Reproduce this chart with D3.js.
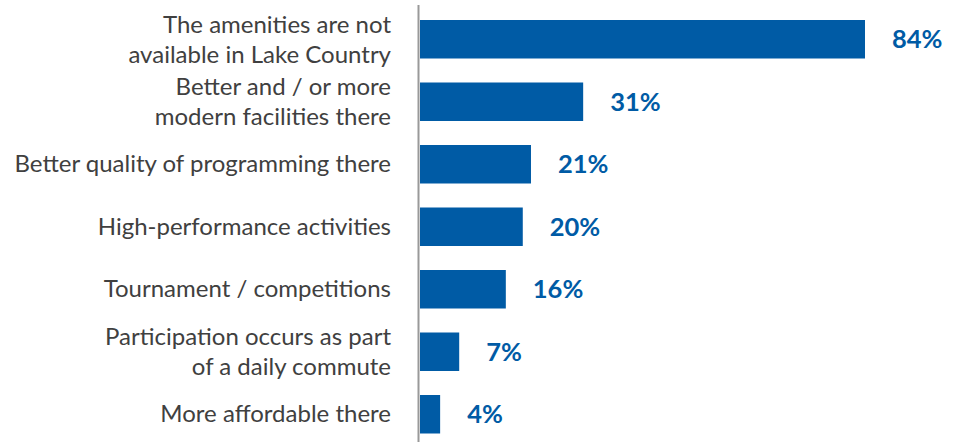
<!DOCTYPE html>
<html><head><meta charset="utf-8">
<script src="https://cdn.jsdelivr.net/npm/d3@7"></script>
<style>
html,body{margin:0;padding:0;background:#fff;}
svg{display:block;}
</style></head>
<body>
<script>
const categories = [
  ["The amenities are not", "available in Lake Country"],
  ["Better and / or more", "modern facilities there"],
  ["Better quality of programming there"],
  ["High-performance activities"],
  ["Tournament / competitions"],
  ["Participation occurs as part", "of a daily commute"],
  ["More affordable there"]
];
const values = [84, 30.8, 20.95, 19.4, 16.2, 7.4, 3.8];
const valueLabels = ["84%", "31%", "21%", "20%", "16%", "7%", "4%"];

const W = 961, H = 442;
const svg = d3.select("body").append("svg").attr("width", W).attr("height", H);

const x = d3.scaleLinear().domain([0, 84]).range([420, 865]);
const y = d3.scaleBand().domain(d3.range(values.length)).range([8, 445.5])
  .paddingInner(0.384).paddingOuter(0.192);

svg.selectAll("rect.bar").data(values).join("rect")
  .attr("class", "bar")
  .attr("x", x(0))
  .attr("y", (d, i) => y(i))
  .attr("width", d => x(d) - x(0))
  .attr("height", y.bandwidth())
  .attr("fill", "#005BA5");

// axis line
svg.append("line")
  .attr("x1", 418.5).attr("x2", 418.5)
  .attr("y1", 5).attr("y2", H)
  .attr("stroke", "#999999").attr("stroke-width", 2);

svg.selectAll("text.val").data(values).join("text")
  .attr("class", "val")
  .attr("x", d => x(d) + 27)
  .attr("y", (d, i) => y(i) + y.bandwidth() / 2 + 9)
  .attr("font-family", "Lato, sans-serif")
  .attr("font-weight", "bold")
  .attr("font-size", 25.5)
  .attr("fill", "#005BA5")
  .text((d, i) => valueLabels[i]);

const lab = svg.selectAll("text.cat").data(categories).join("text")
  .attr("class", "cat")
  .attr("text-anchor", "end")
  .attr("font-family", "Lato, sans-serif")
  .attr("font-size", 24)
  .attr("fill", "#404040");
lab.each(function(lines, i) {
  const c = y(i) + y.bandwidth() / 2;
  const t = d3.select(this);
  if (lines.length === 1) {
    t.append("tspan").attr("x", 391).attr("y", c + 8).text(lines[0]);
  } else {
    lines.forEach((l, k) => {
      t.append("tspan").attr("x", 391).attr("y", c - 6.5 + 30 * k).text(l);
    });
  }
});
</script>
</body></html>
